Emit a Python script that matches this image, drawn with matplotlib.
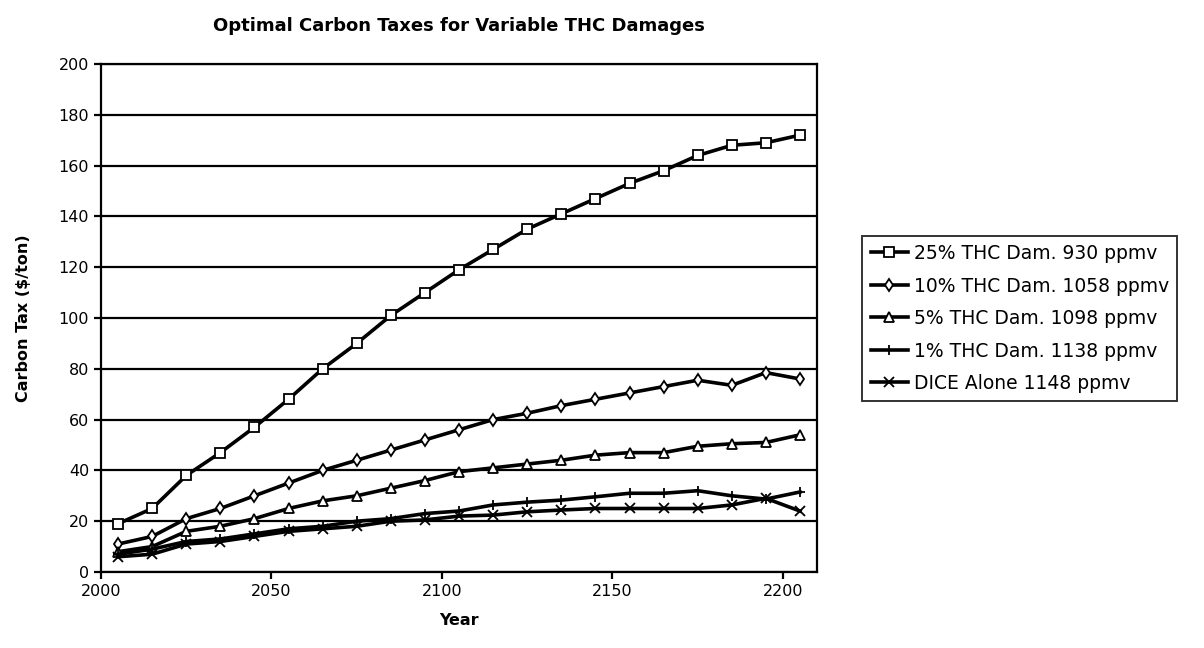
import matplotlib

matplotlib.use("Agg")
import matplotlib.pyplot as plt  # noqa: E402

years = [2005, 2015, 2025, 2035, 2045, 2055, 2065, 2075, 2085, 2095, 2105,
         2115, 2125, 2135, 2145, 2155, 2165, 2175, 2185, 2195, 2205]

thc25 = [19, 25, 38, 47, 57, 68, 80, 90, 101, 110, 119,
         127, 135, 141, 147, 153, 158, 164, 168, 169, 172]
thc10 = [11, 14, 21, 25, 30, 35, 40, 44, 48, 52, 56,
         60, 62.5, 65.5, 68, 70.5, 73, 75.5, 73.5, 78.5, 76]
thc5 = [8, 10, 16, 18, 21, 25, 28, 30, 33, 36, 39.5,
        41, 42.5, 44, 46, 47, 47, 49.5, 50.5, 51, 54]
thc1 = [7, 9, 12, 13, 15, 17, 18, 20, 21, 23, 24,
        26.4, 27.5, 28.3, 29.6, 31, 31, 32, 30, 28.7, 31.5]
dice = [6, 7, 11, 12, 14, 16, 17, 18, 20, 20.5, 22,
        22.4, 23.7, 24.4, 25, 25, 25, 25, 26.4, 29, 24]

series = [
    (thc25, "s", "25% THC Dam. 930 ppmv"),
    (thc10, "d", "10% THC Dam. 1058 ppmv"),
    (thc5, "^", "5% THC Dam. 1098 ppmv"),
    (thc1, "+", "1% THC Dam. 1138 ppmv"),
    (dice, "x", "DICE Alone 1148 ppmv"),
]

fig = plt.figure(figsize=(12.04, 6.48), dpi=100)
ax = fig.add_axes([0.0839, 0.1173, 0.5947, 0.7839])

for vals, mk, label in series:
    ax.plot(years, vals, color="black", lw=2.6, marker=mk, ms=6.5,
            mfc="white", mec="black", mew=1.3, label=label)

ax.set_xlim(2000, 2210)
ax.set_ylim(0, 200)
ax.set_xticks(range(2000, 2201, 50))
ax.set_yticks(range(0, 201, 20))
ax.grid(axis="y", color="black", lw=1.6)
ax.set_axisbelow(True)
for sp in ax.spines.values():
    sp.set_linewidth(1.6)
ax.tick_params(direction="out", width=1.6, length=5, labelsize=11.5)

ax.set_title("Optimal Carbon Taxes for Variable THC Damages",
             fontsize=13, fontweight="bold", pad=24)
ax.set_xlabel("Year", fontsize=11.5, fontweight="bold", labelpad=10)
ax.set_ylabel("Carbon Tax ($/ton)", fontsize=11.5, fontweight="bold", labelpad=20)

# legend box sits right of the plot, vertically centred on it
leg = ax.legend(loc="center left", bbox_to_anchor=(1.063, 0.499), fontsize=13.5,
                frameon=True, fancybox=False, edgecolor="black",
                handlelength=2.0, handletextpad=0.3, labelspacing=0.72,
                borderpad=0.45, borderaxespad=0)
leg.get_frame().set_linewidth(1.4)

fig.savefig("out.png", dpi=100)
